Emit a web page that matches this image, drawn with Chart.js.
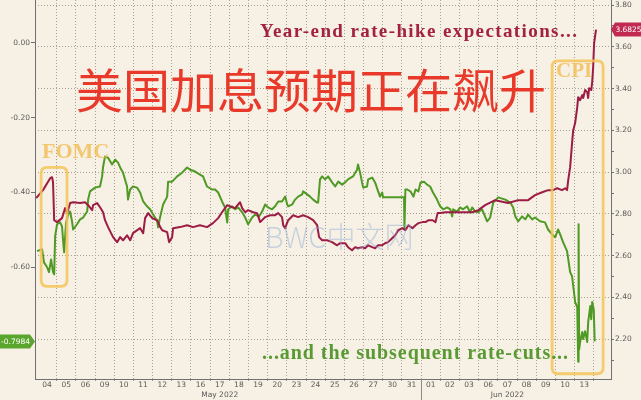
<!DOCTYPE html>
<html><head><meta charset="utf-8">
<script src="https://cdn.jsdelivr.net/npm/chart.js@4.4.0/dist/chart.umd.min.js"></script>
<style>html,body{margin:0;padding:0;background:#f7f0e4;}#wrap{width:641px;height:400px;}</style>
</head><body><div id="wrap"><canvas id="c" width="641" height="400"></canvas></div>
<script>
// trading-day categories (x position i+0.5 is the middle of day i)
const dayLabels = ['04','05','06','09','10','11','12','13','16','17','18','19','20','23','24','25','26','27','30','31','01','02','03','06','07','08','09','10','13'];
const monthLabels = [{name:'May 2022', first:0, last:19},{name:'Jun 2022', first:20, last:28}];
const leftTicks = [0, -0.2, -0.4, -0.6];
const rightTicks = [2.1,2.2,2.3,2.4,2.5,2.6,2.7,2.8,2.9,3.0,3.1,3.2,3.3,3.4,3.5,3.6,3.7,3.8];

// Year-end rate-hike expectations (right axis) : [trading-day position, value]
const hikeSeries = [[-0.07,2.876],[0.29,2.914],[0.66,2.971],[0.76,2.976],[0.81,2.952],[0.87,2.770],[1.02,2.761],[1.28,2.780],[1.44,2.828],[1.55,2.804],[1.70,2.852],[1.86,2.856],[2.22,2.852],[2.48,2.856],[2.64,2.842],[2.85,2.818],[2.90,2.842],[3.11,2.852],[3.26,2.832],[3.42,2.808],[3.52,2.770],[3.68,2.737],[3.94,2.689],[4.15,2.665],[4.31,2.689],[4.46,2.674],[4.67,2.698],[4.83,2.674],[4.98,2.708],[5.35,2.732],[5.51,2.708],[5.61,2.780],[5.77,2.804],[5.98,2.780],[6.24,2.770],[6.40,2.737],[6.50,2.722],[6.76,2.713],[6.86,2.665],[7.02,2.689],[7.07,2.732],[7.43,2.737],[7.80,2.746],[8.11,2.737],[8.47,2.746],[8.84,2.737],[9.15,2.756],[9.42,2.780],[9.62,2.808],[9.89,2.842],[10.15,2.832],[10.30,2.828],[10.56,2.856],[10.67,2.828],[10.83,2.808],[10.98,2.818],[11.24,2.808],[11.45,2.804],[11.61,2.761],[11.87,2.785],[12.13,2.794],[12.39,2.794],[12.55,2.804],[12.75,2.785],[12.81,2.746],[12.91,2.732],[13.07,2.770],[13.33,2.794],[13.59,2.785],[13.85,2.794],[14.11,2.785],[14.37,2.770],[14.58,2.746],[14.68,2.689],[14.84,2.674],[15.10,2.674],[15.36,2.665],[15.62,2.650],[15.78,2.660],[16.04,2.660],[16.19,2.641],[16.40,2.626],[16.56,2.641],[16.71,2.636],[16.92,2.641],[17.08,2.636],[17.24,2.650],[17.45,2.641],[17.60,2.636],[17.76,2.650],[17.97,2.650],[18.12,2.660],[18.28,2.665],[18.49,2.684],[18.65,2.698],[18.81,2.722],[19.02,2.732],[19.18,2.722],[19.34,2.746],[19.55,2.732],[19.71,2.746],[19.86,2.756],[20.07,2.761],[20.23,2.761],[20.39,2.770],[20.60,2.770],[20.75,2.761],[20.86,2.804],[21.01,2.804],[21.27,2.808],[21.64,2.808],[21.93,2.808],[22.30,2.808],[22.66,2.808],[22.98,2.818],[23.34,2.842],[23.86,2.866],[24.54,2.852],[25.06,2.866],[25.58,2.866],[25.94,2.890],[26.31,2.904],[26.62,2.914],[26.88,2.914],[27.09,2.923],[27.35,2.914],[27.51,2.923],[27.61,2.914],[27.67,2.962],[27.77,3.024],[27.87,3.139],[27.93,3.201],[28.03,3.235],[28.14,3.311],[28.19,3.359],[28.29,3.345],[28.40,3.369],[28.45,3.355],[28.55,3.393],[28.66,3.383],[28.71,3.355],[28.76,3.402],[28.87,3.393],[28.92,3.431],[28.97,3.503],[29.02,3.618],[29.12,3.6825]];

// Subsequent rate-cuts (left axis) : [trading-day position, value]
const cutSeries = [[-0.02,-0.557],[0.24,-0.552],[0.34,-0.587],[0.50,-0.600],[0.60,-0.613],[0.71,-0.579],[0.81,-0.613],[0.87,-0.619],[0.92,-0.517],[1.02,-0.485],[1.18,-0.480],[1.28,-0.491],[1.33,-0.525],[1.39,-0.560],[1.49,-0.480],[1.60,-0.459],[1.70,-0.451],[1.80,-0.477],[1.86,-0.499],[2.06,-0.485],[2.22,-0.472],[2.38,-0.467],[2.59,-0.451],[2.64,-0.419],[2.74,-0.397],[3.00,-0.387],[3.26,-0.384],[3.37,-0.357],[3.42,-0.331],[3.52,-0.304],[3.68,-0.307],[3.89,-0.325],[4.05,-0.312],[4.20,-0.320],[4.31,-0.333],[4.46,-0.347],[4.67,-0.384],[4.72,-0.419],[4.83,-0.392],[4.98,-0.384],[5.19,-0.387],[5.35,-0.400],[5.51,-0.424],[5.71,-0.437],[5.87,-0.445],[6.03,-0.459],[6.24,-0.477],[6.29,-0.493],[6.40,-0.464],[6.55,-0.432],[6.76,-0.411],[6.81,-0.371],[7.02,-0.371],[7.28,-0.357],[7.54,-0.347],[7.80,-0.333],[7.96,-0.339],[8.22,-0.344],[8.47,-0.352],[8.63,-0.357],[8.84,-0.384],[9.10,-0.392],[9.26,-0.392],[9.42,-0.400],[9.62,-0.424],[9.78,-0.440],[9.89,-0.480],[9.94,-0.445],[10.15,-0.437],[10.30,-0.445],[10.46,-0.440],[10.67,-0.453],[10.83,-0.467],[10.98,-0.485],[11.19,-0.467],[11.35,-0.459],[11.55,-0.464],[11.71,-0.451],[11.87,-0.432],[12.02,-0.440],[12.23,-0.445],[12.39,-0.437],[12.55,-0.424],[12.75,-0.424],[12.91,-0.411],[13.02,-0.432],[13.07,-0.437],[13.28,-0.432],[13.43,-0.419],[13.59,-0.411],[13.80,-0.405],[13.85,-0.397],[14.06,-0.405],[14.21,-0.411],[14.37,-0.419],[14.58,-0.427],[14.63,-0.427],[14.73,-0.365],[14.84,-0.357],[14.99,-0.365],[15.15,-0.357],[15.36,-0.373],[15.52,-0.384],[15.68,-0.371],[15.88,-0.379],[16.04,-0.373],[16.19,-0.365],[16.45,-0.357],[16.66,-0.339],[16.71,-0.325],[16.82,-0.347],[16.92,-0.373],[16.98,-0.387],[17.18,-0.384],[17.24,-0.365],[17.45,-0.360],[17.60,-0.373],[17.76,-0.397],[17.86,-0.411],[17.97,-0.400],[18.02,-0.413],[19.11,-0.413],[19.13,-0.499],[19.18,-0.392],[19.28,-0.392],[19.44,-0.397],[19.60,-0.411],[19.71,-0.392],[19.86,-0.397],[19.97,-0.373],[20.15,-0.371],[20.31,-0.379],[20.47,-0.384],[20.62,-0.400],[20.83,-0.419],[20.99,-0.437],[21.15,-0.445],[21.36,-0.440],[21.52,-0.445],[21.62,-0.464],[21.67,-0.445],[21.88,-0.451],[22.03,-0.440],[22.19,-0.445],[22.40,-0.437],[22.55,-0.453],[22.66,-0.440],[22.82,-0.451],[22.98,-0.453],[23.18,-0.445],[23.44,-0.477],[23.60,-0.467],[23.76,-0.427],[24.02,-0.413],[24.39,-0.419],[24.65,-0.427],[24.80,-0.440],[24.91,-0.464],[25.06,-0.477],[25.27,-0.464],[25.43,-0.472],[25.58,-0.459],[25.79,-0.472],[25.94,-0.467],[26.20,-0.477],[26.46,-0.480],[26.62,-0.499],[26.83,-0.512],[26.99,-0.520],[27.14,-0.499],[27.25,-0.512],[27.40,-0.533],[27.61,-0.557],[27.77,-0.613],[27.87,-0.624],[28.03,-0.693],[28.14,-0.707],[28.19,-0.853],[28.21,-0.485],[28.24,-0.820],[28.29,-0.800],[28.40,-0.773],[28.45,-0.792],[28.55,-0.771],[28.66,-0.800],[28.71,-0.747],[28.82,-0.704],[28.87,-0.739],[28.92,-0.693],[29.00,-0.712],[29.05,-0.7984]];

// annotation boxes in data units: [dayFrom, dayTo, leftAxisTop, leftAxisBottom]
const fomcBox = [0.19, 1.54, -0.333, -0.651];
const cpiBox = [26.83, 29.49, -0.048, -0.885];

const BG = '#f7f0e4';
const GRID = '#a8a090';
const AXIS = '#707070';
const TICKTXT = '#5a5a5a';
const RED = '#9c1c45';
const GREEN = '#4f9a24';
const tickFont = {family: 'DejaVu Sans', size: 7.5, lineHeight: 1.3};

function isInt(v){ return Math.abs(v - Math.round(v)) < 1e-6; }
function isEvenTenth(v){ return Math.round(v*10) % 2 === 0; }

function roundRect(ctx, x, y, w, h, r){
  ctx.beginPath();
  ctx.moveTo(x+r, y); ctx.lineTo(x+w-r, y); ctx.quadraticCurveTo(x+w, y, x+w, y+r);
  ctx.lineTo(x+w, y+h-r); ctx.quadraticCurveTo(x+w, y+h, x+w-r, y+h);
  ctx.lineTo(x+r, y+h); ctx.quadraticCurveTo(x, y+h, x, y+h-r);
  ctx.lineTo(x, y+r); ctx.quadraticCurveTo(x, y, x+r, y); ctx.closePath();
}
function fitText(ctx, text, font, x, y, width, color){
  ctx.save();
  ctx.font = font; ctx.fillStyle = color; ctx.textAlign = 'left'; ctx.textBaseline = 'alphabetic';
  const w = ctx.measureText(text).width;
  if ('letterSpacing' in ctx) {
    ctx.letterSpacing = ((width - w) / (text.length - 1)).toFixed(2) + 'px';
  }
  ctx.fillText(text, x, y);
  ctx.restore();
}

const decor = {
  id: 'decor',
  beforeDraw(chart){
    const ctx = chart.ctx;
    ctx.save(); ctx.fillStyle = BG; ctx.fillRect(0, 0, chart.width, chart.height); ctx.restore();
  },
  afterDatasetsDraw(chart){
    const ctx = chart.ctx;
    const xs = chart.scales.x, yl = chart.scales.yL;
    // highlight boxes
    ctx.save();
    ctx.strokeStyle = 'rgba(244,196,88,0.85)'; ctx.lineWidth = 2.8;
    [fomcBox, cpiBox].forEach(b => {
      const x0 = xs.getPixelForValue(b[0]), x1 = xs.getPixelForValue(b[1]);
      const y0 = yl.getPixelForValue(b[2]), y1 = yl.getPixelForValue(b[3]);
      roundRect(ctx, x0, y0, x1-x0, y1-y0, 6); ctx.stroke();
    });
    ctx.restore();
    // watermark
    ctx.save();
    ctx.font = '300 29px "Noto Sans CJK SC"'; ctx.fillStyle = 'rgba(140,170,215,0.45)';
    ctx.textBaseline = 'alphabetic'; ctx.fillText('BWC中文网', 265, 248);
    ctx.restore();
    // labels
    ctx.save();
    ctx.font = 'bold 22px "Liberation Serif"'; ctx.fillStyle = 'rgba(241,192,92,0.85)';
    ctx.textBaseline = 'alphabetic';
    ctx.fillText('FOMC', 42, 158);
    ctx.font = 'bold 21px "Liberation Serif"';
    ctx.fillText('CPI', 556, 77);
    ctx.restore();
    ctx.save();
    ctx.font = '47px "Noto Sans CJK SC"'; ctx.fillStyle = '#e8392b';
    ctx.textAlign = 'center'; ctx.textBaseline = 'middle';
    ctx.fillText('美国加息预期正在飙升', 311, 90);
    ctx.restore();
    fitText(ctx, 'Year-end rate-hike expectations...', 'bold 19px "Liberation Serif"', 260, 37, 317, '#a3223f');
    fitText(ctx, '...and the subsequent rate-cuts...', 'bold 20px "Liberation Serif"', 262, 359, 306, '#5a9a35');
  },
  afterDraw(chart){
    const ctx = chart.ctx;
    const xs = chart.scales.x, yl = chart.scales.yL, yr = chart.scales.yR;
    const area = chart.chartArea;
    // month separator
    const sx = Math.round(xs.getPixelForValue(monthLabels[1].first)) + 0.5;
    ctx.save(); ctx.strokeStyle = '#8a8a8a'; ctx.lineWidth = 1;
    ctx.beginPath(); ctx.moveTo(sx, area.bottom); ctx.lineTo(sx, chart.height); ctx.stroke(); ctx.restore();
    // last-value badges
    const gLast = cutSeries[cutSeries.length-1][1];
    const rLast = hikeSeries[hikeSeries.length-1][1];
    ctx.save();
    ctx.font = '7.5px "DejaVu Sans"'; ctx.textBaseline = 'middle'; ctx.textAlign = 'center';
    let yc = yl.getPixelForValue(gLast);
    ctx.fillStyle = '#5aa52b';
    ctx.beginPath();
    ctx.moveTo(0, yc-7); ctx.lineTo(30, yc-7); ctx.lineTo(area.left, yc); ctx.lineTo(30, yc+7); ctx.lineTo(0, yc+7); ctx.closePath(); ctx.fill();
    ctx.fillStyle = '#ffffff'; ctx.fillText(gLast.toFixed(4), 15.5, yc+0.5);
    yc = yr.getPixelForValue(rLast);
    ctx.fillStyle = '#c22a52';
    ctx.beginPath();
    ctx.moveTo(chart.width, yc-7); ctx.lineTo(area.right+4, yc-7); ctx.lineTo(area.right, yc); ctx.lineTo(area.right+4, yc+7); ctx.lineTo(chart.width, yc+7); ctx.closePath(); ctx.fill();
    ctx.fillStyle = '#ffffff'; ctx.fillText(rLast.toFixed(4), (area.right+4+chart.width)/2 + 0.5, yc+0.5);
    ctx.restore();
  }
};

new Chart(document.getElementById('c'), {
  type: 'line',
  data: {
    datasets: [
      {label: 'Year-end rate-hike expectations', data: hikeSeries.map(p => ({x: p[0], y: p[1]})), yAxisID: 'yR',
       borderColor: RED, borderWidth: 2, pointRadius: 0, tension: 0, borderJoinStyle: 'round'},
      {label: 'Subsequent rate-cuts', data: cutSeries.map(p => ({x: p[0], y: p[1]})), yAxisID: 'yL',
       borderColor: GREEN, borderWidth: 2, pointRadius: 0, tension: 0, borderJoinStyle: 'round'}
    ]
  },
  options: {
    responsive: false, animation: false, devicePixelRatio: 1,
    layout: {padding: 0},
    plugins: {legend: {display: false}, tooltip: {enabled: false}},
    scales: {
      x: {
        type: 'linear', position: 'bottom', min: -0.13, max: 29.9,
        afterBuildTicks(s){
          const t = [];
          for (let i = 1; i <= dayLabels.length; i++) t.push({value: i});
          for (let i = 0; i < dayLabels.length; i++) t.push({value: i + 0.5});
          t.sort((a, b) => a.value - b.value);
          s.ticks = t;
        },
        ticks: {
          autoSkip: false, maxRotation: 0, minRotation: 0, padding: -1, color: TICKTXT, font: tickFont,
          callback(v){
            if (isInt(v)) return '';
            const i = Math.floor(v);
            const m = monthLabels.find(mm => Math.floor((mm.first + mm.last) / 2) === i);
            return m ? [dayLabels[i], m.name] : dayLabels[i];
          }
        },
        grid: {
          color: c => (c.tick && isInt(c.tick.value)) ? GRID : 'rgba(0,0,0,0)',
          tickColor: c => (c.tick && isInt(c.tick.value)) ? '#999' : 'rgba(0,0,0,0)',
          tickLength: 2, lineWidth: 1
        },
        border: {color: AXIS, width: 1, dash: [1, 2]},
        afterFit(s){ s.height = 21; s.paddingLeft = 0; s.paddingRight = 0; }
      },
      yL: {
        type: 'linear', position: 'left', min: -0.899, max: 0.115,
        afterBuildTicks(s){ s.ticks = leftTicks.map(v => ({value: v})); },
        ticks: {color: TICKTXT, font: tickFont, padding: 1, callback: v => v.toFixed(2)},
        grid: {drawOnChartArea: false, tickLength: 4, tickColor: AXIS},
        border: {color: AXIS, width: 1},
        afterFit(s){ s.width = 35; s.paddingTop = 0; s.paddingBottom = 0; }
      },
      yR: {
        type: 'linear', position: 'right', min: 2.01, max: 3.824,
        afterBuildTicks(s){ s.ticks = rightTicks.map(v => ({value: v})); },
        ticks: {color: TICKTXT, font: tickFont, padding: 1, callback: v => isEvenTenth(v) ? v.toFixed(2) : ''},
        grid: {
          color: c => (c.tick && isEvenTenth(c.tick.value)) ? GRID : 'rgba(0,0,0,0)',
          tickColor: AXIS, tickLength: 3
        },
        border: {color: AXIS, width: 1, dash: [1, 2]},
        afterFit(s){ s.width = 30; s.paddingTop = 0; s.paddingBottom = 0; }
      }
    }
  },
  plugins: [decor]
});
</script>
</body></html>
